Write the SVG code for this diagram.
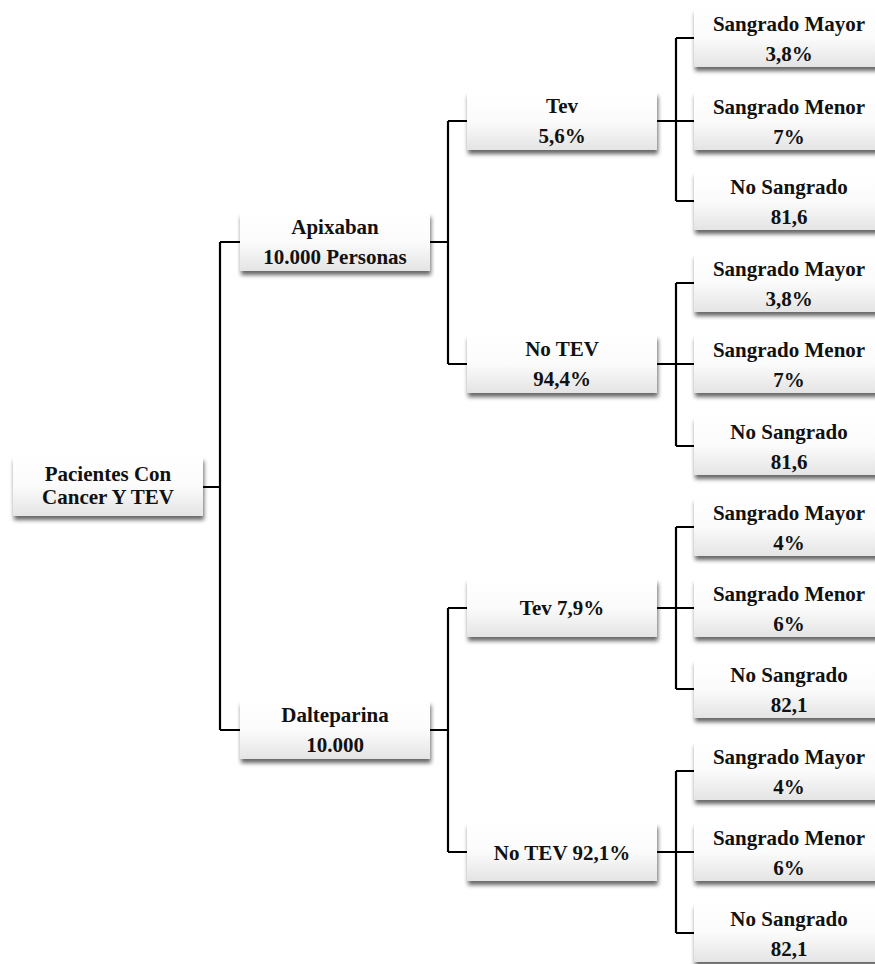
<svg xmlns="http://www.w3.org/2000/svg" width="875" height="964" viewBox="0 0 875 964">
<defs>
<linearGradient id="g" x1="0" y1="0" x2="0" y2="1">
<stop offset="0" stop-color="#ffffff"/>
<stop offset="0.5" stop-color="#fbfbfb"/>
<stop offset="1" stop-color="#e4e4e4"/>
</linearGradient>
<filter id="sh" x="-10%" y="-20%" width="125%" height="150%">
<feDropShadow dx="1" dy="4" stdDeviation="2.2" flood-color="#000" flood-opacity="0.6"/>
</filter>
</defs>
<style>
.box{fill:url(#g);filter:url(#sh);}
.t{font-family:"Liberation Serif","Times New Roman",serif;font-weight:bold;font-size:21px;fill:#111;text-anchor:middle;}
.c{fill:none;stroke:#000;stroke-width:2.2;}
</style>
<rect width="875" height="964" fill="#fff"/>
<g id="connectors">
<path class="c" d="M203 487H220M220 242V730M220 242H240M220 730H240"/>
<path class="c" d="M430 242H448M448 121V364M448 121H467M448 364H467"/>
<path class="c" d="M430 730H448M448 608V852M448 608H467M448 852H467"/>
<path class="c" d="M657 121H676M676 38V201M676 38H694M676 121H694M676 201H694"/>
<path class="c" d="M657 364H676M676 283V446M676 283H694M676 364H694M676 446H694"/>
<path class="c" d="M657 608H676M676 527V689M676 527H694M676 608H694M676 689H694"/>
<path class="c" d="M657 852H676M676 771V933M676 771H694M676 852H694M676 933H694"/>
</g>
<g id="root"><rect class="box" x="13" y="457" width="190" height="59"/><text class="t" x="108" y="481">Pacientes Con</text><text class="t" x="108" y="504">Cancer Y TEV</text></g>
<g id="apixaban"><rect class="box" x="240" y="213" width="190" height="58"/><text class="t" x="335" y="234">Apixaban</text><text class="t" x="335" y="264">10.000 Personas</text></g>
<g id="dalteparina"><rect class="box" x="240" y="701" width="190" height="58"/><text class="t" x="335" y="722">Dalteparina</text><text class="t" x="335" y="752">10.000</text></g>
<g id="a-tev"><rect class="box" x="467" y="92" width="190" height="58"/><text class="t" x="562" y="113">Tev</text><text class="t" x="562" y="143">5,6%</text></g>
<g id="a-notev"><rect class="box" x="467" y="335" width="190" height="58"/><text class="t" x="562" y="356">No TEV</text><text class="t" x="562" y="386">94,4%</text></g>
<g id="d-tev"><rect class="box" x="467" y="579" width="190" height="58"/><text class="t" x="562" y="615">Tev 7,9%</text></g>
<g id="d-notev"><rect class="box" x="467" y="823" width="190" height="58"/><text class="t" x="562" y="860">No TEV 92,1%</text></g>
<g id="a1"><rect class="box" x="694" y="9" width="190" height="58"/><text class="t" x="789" y="31">Sangrado Mayor</text><text class="t" x="789" y="61">3,8%</text></g>
<g id="a2"><rect class="box" x="694" y="92" width="190" height="58"/><text class="t" x="789" y="114">Sangrado Menor</text><text class="t" x="789" y="144">7%</text></g>
<g id="a3"><rect class="box" x="694" y="172" width="190" height="58"/><text class="t" x="789" y="194">No Sangrado</text><text class="t" x="789" y="224">81,6</text></g>
<g id="a4"><rect class="box" x="694" y="254" width="190" height="58"/><text class="t" x="789" y="276">Sangrado Mayor</text><text class="t" x="789" y="306">3,8%</text></g>
<g id="a5"><rect class="box" x="694" y="335" width="190" height="58"/><text class="t" x="789" y="357">Sangrado Menor</text><text class="t" x="789" y="387">7%</text></g>
<g id="a6"><rect class="box" x="694" y="417" width="190" height="58"/><text class="t" x="789" y="439">No Sangrado</text><text class="t" x="789" y="469">81,6</text></g>
<g id="d1"><rect class="box" x="694" y="498" width="190" height="58"/><text class="t" x="789" y="520">Sangrado Mayor</text><text class="t" x="789" y="550">4%</text></g>
<g id="d2"><rect class="box" x="694" y="579" width="190" height="58"/><text class="t" x="789" y="601">Sangrado Menor</text><text class="t" x="789" y="631">6%</text></g>
<g id="d3"><rect class="box" x="694" y="660" width="190" height="58"/><text class="t" x="789" y="682">No Sangrado</text><text class="t" x="789" y="712">82,1</text></g>
<g id="d4"><rect class="box" x="694" y="742" width="190" height="58"/><text class="t" x="789" y="764">Sangrado Mayor</text><text class="t" x="789" y="794">4%</text></g>
<g id="d5"><rect class="box" x="694" y="823" width="190" height="58"/><text class="t" x="789" y="845">Sangrado Menor</text><text class="t" x="789" y="875">6%</text></g>
<g id="d6"><rect class="box" x="694" y="904" width="190" height="58"/><text class="t" x="789" y="926">No Sangrado</text><text class="t" x="789" y="956">82,1</text></g>
</svg>
